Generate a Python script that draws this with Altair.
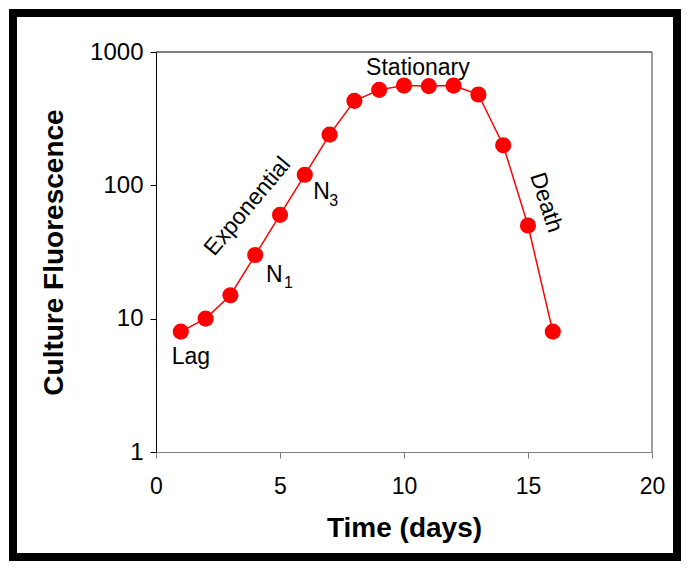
import altair as alt
import pandas as pd

# ---- data ----
days = list(range(1, 17))
fluor = [8, 10, 15, 30, 60, 120, 240, 430, 520, 560, 555, 560, 480, 200, 50, 8]

phase_text = ["Lag", "Exponential", "Stationary", "Death"]
phase_x = [1.41, 3.91, 10.56, 15.46]
phase_y = [4.57, 64.2, 672, 71.6]
phase_angle = [0, 310, 0, 72]

n_text = ["N", "N"]
n_x = [4.435, 6.34]
n_y = [18.9, 78.6]
sub_text = ["1", "3"]
sub_x = [5.16, 6.99]
sub_y = [17.0, 70.3]

x_ticks = [0, 5, 10, 15, 20]
y_ticks = [1, 10, 100, 1000]

FONT = "Liberation Sans"
RED = "#FF0000"
GRAY = "#808080"

df = pd.DataFrame({"day": days, "fluor": fluor})
df_phase = pd.DataFrame({"day": phase_x, "fluor": phase_y, "label": phase_text, "ang": phase_angle})
df_n = pd.DataFrame({"day": n_x, "fluor": n_y, "label": n_text})
df_sub = pd.DataFrame({"day": sub_x, "fluor": sub_y, "label": sub_text})

xs = alt.Scale(domain=[0, 20], nice=False)
ys = alt.Scale(type="log", domain=[1, 1000], nice=False)

x_enc = alt.X("day:Q", scale=xs, title="Time (days)",
              axis=alt.Axis(values=x_ticks, grid=False, domainColor=GRAY, tickColor=GRAY,
                            tickSize=6, labelFontSize=23, labelFont=FONT, labelColor="black",
                            labelPadding=17, labelFlush=False, labelOverlap=False,
                            titleFont=FONT, titleFontSize=28, titleFontWeight="bold",
                            titleColor="black", titleY=84, titleBaseline="alphabetic"))
y_enc = alt.Y("fluor:Q", scale=ys, title="Culture Fluorescence",
              axis=alt.Axis(values=y_ticks, format="d", grid=False, domainColor="black",
                            tickColor="black", tickSize=6, labelFontSize=24, labelFont=FONT,
                            labelColor="black", labelPadding=7, labelFlush=False,
                            labelOverlap=False, titleFont=FONT, titleFontSize=28,
                            titleFontWeight="bold", titleColor="black", titleX=-94, titleY=200,
                            titleAngle=270, titleAlign="center", titleBaseline="alphabetic"))

one = pd.DataFrame({"d": [0]})

top_rule = alt.Chart(one).mark_rule(color="black", strokeWidth=1).encode(
    x=alt.datum(0, scale=xs), x2=alt.datum(20), y=alt.datum(1000, scale=ys))
right_rule = alt.Chart(one).mark_rule(color=GRAY, strokeWidth=1.5).encode(
    x=alt.datum(20, scale=xs), y=alt.datum(1, scale=ys), y2=alt.datum(1000))

line = alt.Chart(df).mark_line(color=RED, strokeWidth=1.5).encode(x=x_enc, y=y_enc)
pts = alt.Chart(df).mark_circle(color=RED, size=260, opacity=1).encode(x=x_enc, y=y_enc)

phase = alt.Chart(df_phase).mark_text(font=FONT, fontSize=23, color="black",
                                      align="center", baseline="alphabetic").encode(
    x=x_enc, y=y_enc, text="label:N", angle=alt.Angle("ang:Q", scale=None))
ntxt = alt.Chart(df_n).mark_text(font=FONT, fontSize=23, color="black",
                                 align="left", baseline="alphabetic").encode(
    x=x_enc, y=y_enc, text="label:N")
subtxt = alt.Chart(df_sub).mark_text(font=FONT, fontSize=16, color="black",
                                     align="left", baseline="alphabetic").encode(
    x=x_enc, y=y_enc, text="label:N")

border = alt.Chart(one).mark_rect(filled=False, stroke="black", strokeWidth=8).encode(
    x=alt.value(-143), x2=alt.value(521), y=alt.value(-39), y2=alt.value(505))

chart = alt.layer(top_rule, right_rule, line, pts, phase, ntxt, subtxt, border).properties(
    width=496, height=400,
    padding={"left": 148, "top": 44, "right": 29, "bottom": 109},
    autosize=alt.AutoSizeParams(type="none"),
).configure_view(stroke=None)

chart.save("out.html", embed_options={"renderer": "svg", "actions": False})
